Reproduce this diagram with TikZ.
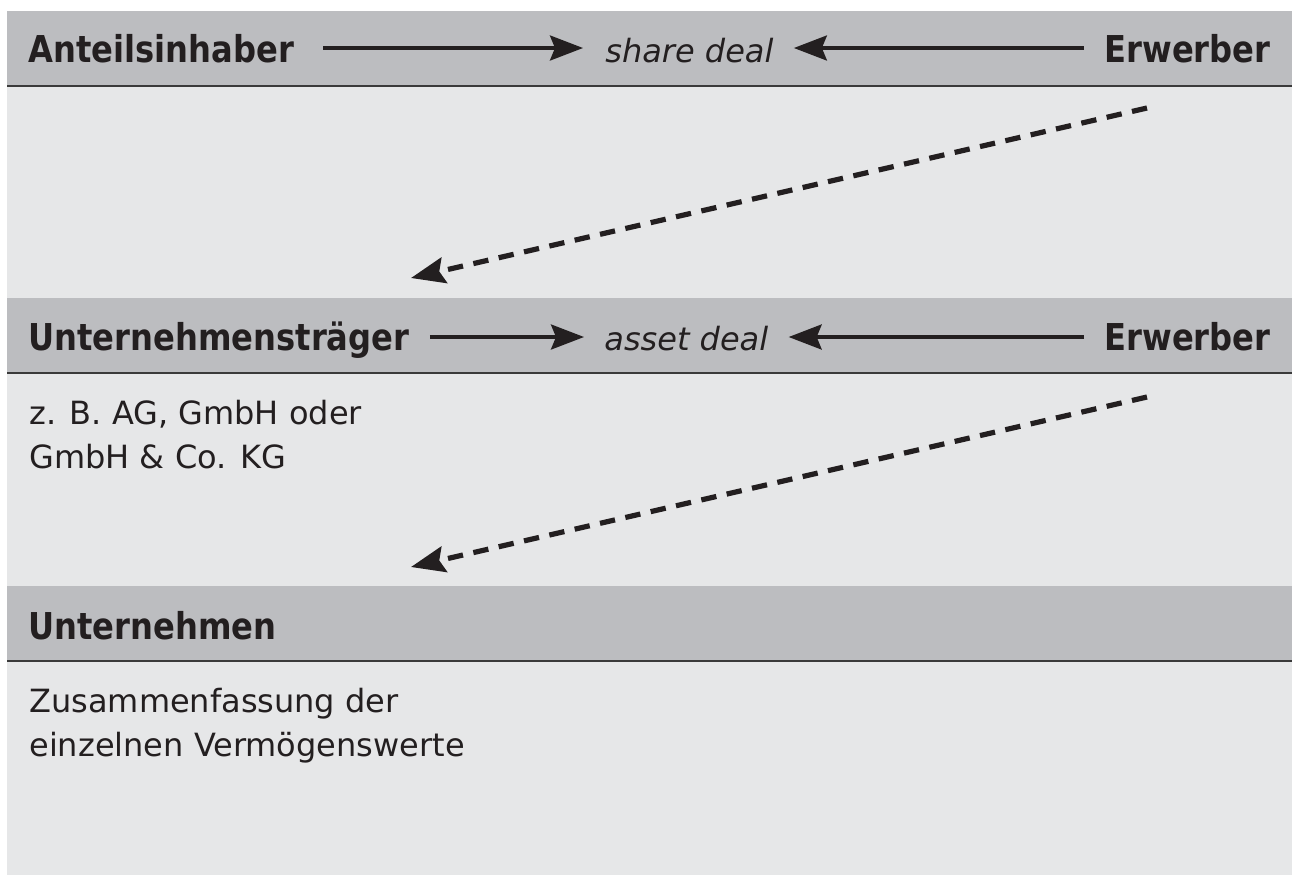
\documentclass[tikz,border=0pt]{standalone}
\usepackage{fontspec}
\setmainfont{DejaVu Sans}
\newfontfamily\hdrfont{DejaVu Sans}[FakeStretch=0.87]
\usetikzlibrary{arrows.meta,calc}
\definecolor{hdrgray}{HTML}{BCBDC0}
\definecolor{bodygray}{HTML}{E6E7E8}
\definecolor{ink}{HTML}{231F20}
\definecolor{rule}{HTML}{3A3A3A}
\tikzset{
  headtext/.style={inner sep=0pt, text=ink, font=\hdrfont\bfseries\fontsize{18.5}{22}\selectfont},
  dealtext/.style={inner sep=0pt, text=ink, font=\itshape\fontsize{16}{22}\selectfont},
  bodytext/.style={inner sep=0pt, text=ink, align=left, font=\fontsize{16}{22}\selectfont},
  solidarrow/.style={draw=ink, line width=1.7pt, -{Stealth[length=16.5pt,width=12.5pt,inset=2.5pt]}},
  dasharrow/.style={draw=ink, line width=2.6pt, dash pattern=on 7.7pt off 5.3pt, -{Stealth[length=17pt,width=13pt,inset=2.5pt]}},
  band/.style={fill=hdrgray, draw=none},
  sepline/.style={draw=rule, line width=1pt}
}
\begin{document}
\begin{tikzpicture}[x=0.5pt,y=-0.5pt]
\useasboundingbox (0,0) rectangle (1292,875);
% panel
\fill[bodygray] (7,11) rectangle (1292,875);
\fill[band] (7,11) rectangle (1292,86);
\fill[band] (7,298) rectangle (1292,373);
\fill[band] (7,586) rectangle (1292,661);
\draw[sepline] (7,86) -- (1292,86);
\draw[sepline] (7,373) -- (1292,373);
\draw[sepline] (7,661) -- (1292,661);
% row 1
\node[headtext, anchor=base west] (a1) at (28,62) {Anteilsinhaber};
\node[dealtext, anchor=base west] (d1) at (605,62) {share deal};
\node[headtext, anchor=base east] (e1) at (1271,62) {Erwerber};
\draw[solidarrow, shorten <=14.5pt, shorten >=11pt] ($(a1.base east)+(0,-14)$) -- ($(d1.base west)+(0,-14)$);
\draw[solidarrow, shorten <=10pt, shorten >=10pt] ($(e1.base west)+(0,-14)$) -- ($(d1.base east)+(0,-14)$);
% row 2
\node[headtext, anchor=base west] (a2) at (28,350) {Unternehmensträger};
\node[dealtext, anchor=base west] (d2) at (604,350) {asset deal};
\node[headtext, anchor=base east] (e2) at (1271,350) {Erwerber};
\draw[solidarrow, shorten <=10pt, shorten >=10pt] ($(a2.base east)+(0,-13)$) -- ($(d2.base west)+(0,-13)$);
\draw[solidarrow, shorten <=10pt, shorten >=10pt] ($(e2.base west)+(0,-13)$) -- ($(d2.base east)+(0,-13)$);
\node[bodytext, anchor=base west] (b2) at (29,468) {z. B. AG, GmbH oder\\GmbH \& Co. KG};
% row 3
\node[headtext, anchor=base west] (a3) at (28,639) {Unternehmen};
\node[bodytext, anchor=base west] (b3) at (29,756) {Zusammenfassung der\\einzelnen Vermögenswerte};
% dashed arrows
\coordinate (s1) at (1147,108);
\coordinate (t1) at (411,278);
\coordinate (s2) at (1147,397);
\coordinate (t2) at (411,567);
\draw[dasharrow] (s1) -- (t1);
\draw[dasharrow] (s2) -- (t2);
\end{tikzpicture}
\end{document}
